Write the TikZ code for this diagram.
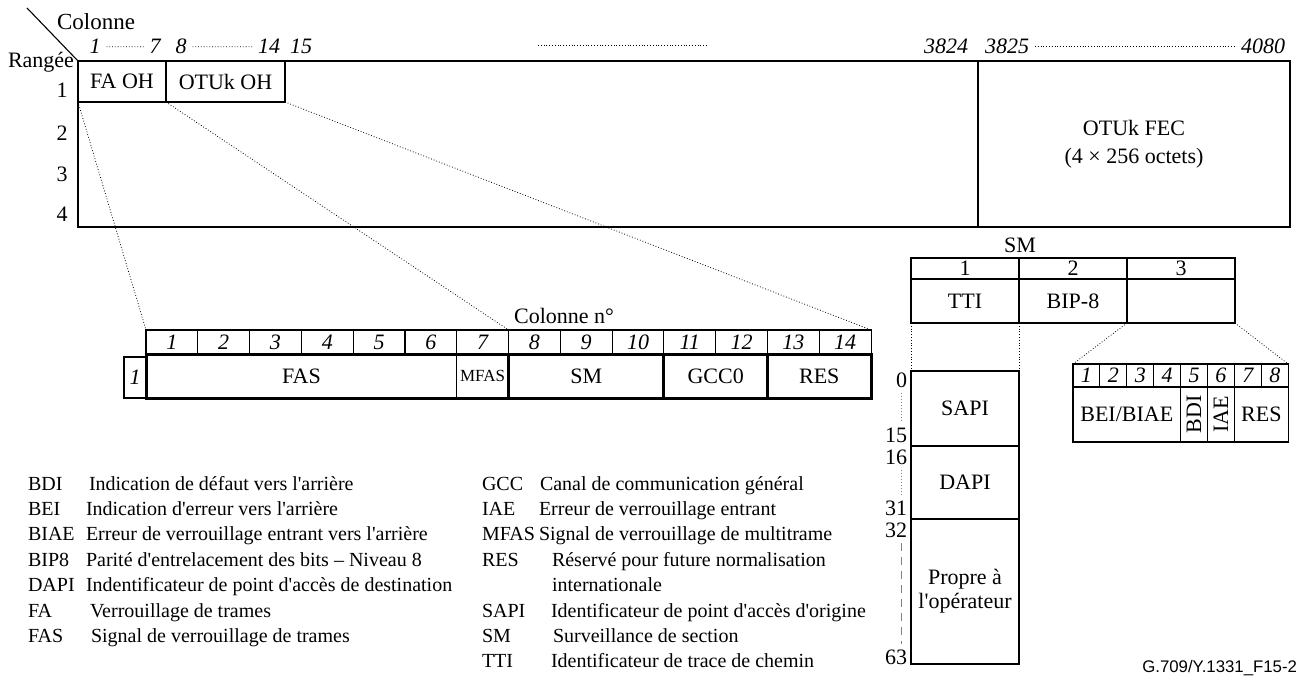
\documentclass[tikz,border=0pt]{standalone}
\usepackage{fontspec}
\setmainfont{Liberation Serif}[Ligatures=TeXOff]
\newfontfamily\figsans{Liberation Sans}
\newcommand\mainsize{\fontsize{11}{13}\selectfont}
\newcommand\legsize{\fontsize{10}{12}\selectfont}

\begin{document}
\begin{tikzpicture}[
  x=0.5pt, y=-0.5pt,
  every node/.style={font=\mainsize, inner sep=0pt, outer sep=0pt},
  frame/.style={draw, line width=0.55pt, anchor=north west},
  colnum/.style={font=\mainsize\itshape, anchor=base, inner sep=3pt},
  hcell/.style={frame, font=\mainsize\itshape, minimum width=25.9pt, minimum height=12pt},
  field/.style={frame, minimum height=22pt},
  smcell/.style={frame, minimum width=54pt},
  bitcell/.style={frame, font=\mainsize\itshape, minimum width=13.45pt, minimum height=11.5pt},
  link/.style={densely dotted, line width=0.4pt},
  fine/.style={densely dotted, line width=0.4pt},
  thickrule/.style={line width=1.5pt},
  scaledot/.style={densely dotted, line width=0.5pt, gray, shorten <=3pt, shorten >=3pt},
  scaledash/.style={dash pattern=on 4pt off 3pt, line width=0.5pt, gray, shorten <=3pt, shorten >=3pt},
  legend/.style={font=\legsize, anchor=base west}
]
\useasboundingbox (0,0) rectangle (1300,679);

% OTUk frame
\node[frame, minimum width=606pt, minimum height=83pt] (frame) at (78,61) {};
\node[frame, minimum width=156pt, minimum height=83pt, align=center, font=\fontsize{11}{14}\selectfont] (fec) at (978,61) {OTUk FEC\\(4 × 256 octets)};
\node[frame, minimum width=44pt, minimum height=20.5pt] (faoh) at (78,61) {FA OH};
\node[frame, minimum width=59.5pt, minimum height=20.5pt] (otuoh) at (166,61) {OTUk OH};
\coordinate (corner) at (27,8);
\draw[line width=0.55pt] (corner) -- (frame.north west);
\node[font=\fontsize{11.5}{13}\selectfont] (colonne) at (96,22) {Colonne};
\node (rangee) at (41,62) {Rangée};
\foreach \r/\y in {1/90,2/133,3/174,4/214}
  \node (row\r) at (62,\y) {\r};

% column numbers
\node[colnum] (c1) at (95,54) {1};
\node[colnum] (c7) at (155,54) {7};
\node[colnum] (c8) at (181,54) {8};
\node[colnum] (c14) at (269,54) {14};
\node[colnum] (c15) at (301,54) {15};
\node[colnum] (c3824) at (946,54) {3824};
\node[colnum] (c3825) at (1007,54) {3825};
\node[colnum] (c4080) at (1263,54) {4080};
\coordinate (mid1) at (538,45);
\coordinate (mid2) at (708,45);
\draw[fine] (c1.east) -- (c7.west);
\draw[fine] (c8.east) -- (c14.west);
\draw[fine] (mid1) -- (mid2);
\draw[fine] (c3825.east) -- (c4080.west);

% OTUk overhead row 1
\node (colnr) at (564,316) {Colonne n°};
\foreach \i in {1,...,14}
  \node[hcell] (h\i) at ({146+51.79*(\i-1)},330) {\i};
\node[frame, font=\mainsize\itshape, minimum width=11pt, minimum height=20.5pt] (one) at (124,357) {1};
\node[field, minimum width=155.37pt] (fas) at (146,354) {FAS};
\node[field, minimum width=25.9pt, font=\fontsize{8.5}{10}\selectfont] (mfas) at (456.7,354) {MFAS};
\node[field, minimum width=77.69pt] (fsm) at (508.5,354) {SM};
\node[field, minimum width=51.79pt] (gcc) at (663.9,354) {GCC0};
\node[field, minimum width=51.79pt] (res) at (767.5,354) {RES};
\draw[thickrule] (fas.north west) rectangle (res.south east);
\draw[thickrule] (fsm.north west) -- (fsm.south west)
  (gcc.north west) -- (gcc.south west)
  (res.north west) -- (res.south west);

\draw[link] (faoh.south west) -- (h1.north west);
\draw[link] (faoh.south east) -- (h8.north west);
\draw[link] (otuoh.south east) -- (h14.north east);

% SM field
\node (smtitle) at (1020,245) {SM};
\foreach \i in {1,2,3}
  \node[smcell, minimum height=10.5pt] (smh\i) at ({911+108*(\i-1)},258) {\i};
\node[smcell, minimum height=22pt] (tti) at (911,279) {TTI};
\node[smcell, minimum height=22pt] (bip) at (1019,279) {BIP-8};
\node[smcell, minimum height=22pt] (smc3) at (1127,279) {};

% TTI
\node[smcell, minimum height=37.5pt] (sapi) at (911,371) {SAPI};
\node[smcell, minimum height=36.5pt] (dapi) at (911,446) {DAPI};
\node[smcell, minimum height=72.5pt, align=center, font=\fontsize{11}{12}\selectfont] (propre) at (911,519) {Propre à\\l'opérateur};
\draw[link] (tti.south west) -- (sapi.north west);
\draw[link] (tti.south east) -- (sapi.north east);

\node[anchor=east] (l0) at (907,380) {0};
\node[anchor=east] (l15) at (907,435) {15};
\node[anchor=east] (l16) at (907,457) {16};
\node[anchor=east] (l31) at (907,508) {31};
\node[anchor=east] (l32) at (907,530) {32};
\node[anchor=east] (l63) at (907,657) {63};
\draw[scaledot] ([xshift=-3pt]l0.south east) -- ([xshift=-3pt]l15.north east);
\draw[scaledot] ([xshift=-3pt]l16.south east) -- ([xshift=-3pt]l31.north east);
\draw[scaledash] ([xshift=-3pt]l32.south east) -- ([xshift=-3pt]l63.north east);

% SM byte 3
\foreach \i in {1,...,8}
  \node[bitcell] (b\i) at ({1073+26.9*(\i-1)},364) {\i};
\node[frame, minimum width=53.8pt, minimum height=27.5pt] (bei) at (1073,387) {BEI/BIAE};
\node[frame, minimum width=13.45pt, minimum height=27.5pt] (bdi) at (1180.6,387) {\rotatebox{90}{BDI}};
\node[frame, minimum width=13.45pt, minimum height=27.5pt] (iae) at (1207.5,387) {\rotatebox{90}{IAE}};
\node[frame, minimum width=26.9pt, minimum height=27.5pt] (bres) at (1234.4,387) {RES};
\draw[link] (smc3.south west) -- (b1.north west);
\draw[link] (smc3.south east) -- (b8.north east);

% legend
\foreach \ab/\dx/\de [count=\k from 0] in {
  BDI/89/Indication de défaut vers l'arrière,
  BEI/86/Indication d'erreur vers l'arrière,
  BIAE/86/Erreur de verrouillage entrant vers l'arrière,
  BIP8/86/Parité d'entrelacement des bits – Niveau 8,
  DAPI/86/Indentificateur de point d'accès de destination,
  FA/90/Verrouillage de trames,
  FAS/91/Signal de verrouillage de trames}
{
  \node[legend] (la\k) at (28,{490+25.4*\k}) {\ab};
  \node[legend] (ld\k) at (\dx,{490+25.4*\k}) {\de};
}
\foreach \ab/\dx/\rw/\de in {
  GCC/540/0/Canal de communication général,
  IAE/539/1/Erreur de verrouillage entrant,
  MFAS/539/2/Signal de verrouillage de multitrame,
  RES/552/3/Réservé pour future normalisation,
  SAPI/551/5/Identificateur de point d'accès d'origine,
  SM/553/6/Surveillance de section,
  TTI/551/7/Identificateur de trace de chemin}
{
  \node[legend] (ra\rw) at (482,{490+25.4*\rw}) {\ab};
  \node[legend] (rd\rw) at (\dx,{490+25.4*\rw}) {\de};
}
\node[legend] (rd4) at (552,{490+25.4*4}) {internationale};

\node[font=\figsans\fontsize{8.4}{10}\selectfont, anchor=east] (figref) at (1297,668) {G.709/Y.1331\_F15-2};
\end{tikzpicture}
\end{document}
